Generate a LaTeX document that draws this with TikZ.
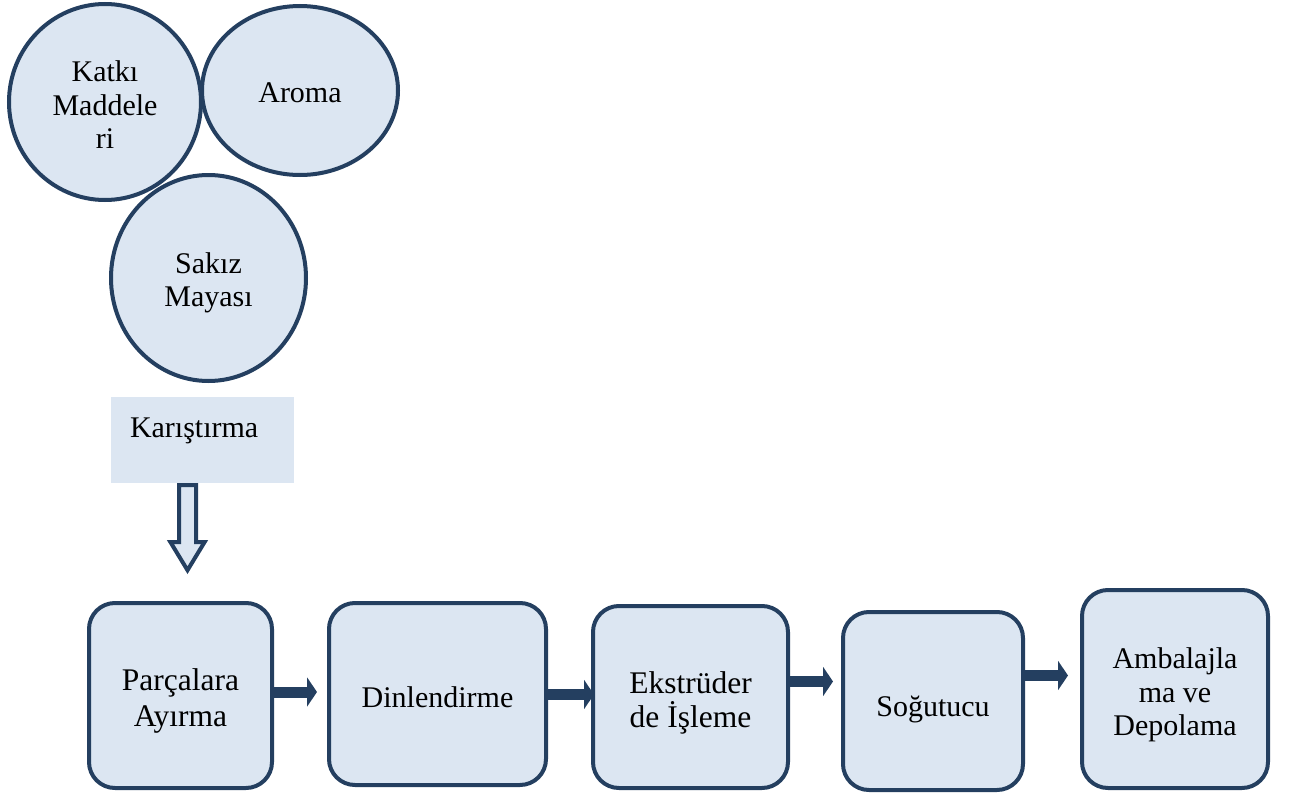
\documentclass[tikz,border=0pt]{standalone}
\usepackage{fontspec}
\setmainfont{Liberation Serif}
\usetikzlibrary{shapes.geometric,arrows.meta,calc}
\definecolor{fillc}{HTML}{DCE6F2}
\definecolor{linec}{HTML}{243F60}
\newcommand\tstrut[1]{\rule{0pt}{#1pt}}
\begin{document}
\begin{tikzpicture}[x=1pt,y=-1pt,
  every node/.style={font=\fontsize{30}{33.5}\selectfont, align=center},
  bigtext/.style={font=\fontsize{31.5}{35.5}\selectfont},
  circ/.style={ellipse, draw=linec, fill=fillc, line width=4pt, inner sep=0pt},
  stepbox/.style={rectangle, rounded corners=26pt, draw=linec, fill=fillc, line width=4pt, inner sep=0pt},
  flow/.style={draw=linec, line width=11pt, -{Triangle[length=10pt,width=29pt]}},
  hollow/.style={draw=linec, fill=fillc, line width=4pt, line join=miter},
]
\useasboundingbox (0,0) rectangle (1291,803);
% ingredient circles
\node[circ, minimum width=192pt, minimum height=196pt] (katki) at (105,102) {\tstrut{26.5}Katkı\\Maddele\\ri};
\node[circ, minimum width=196pt, minimum height=169pt] (aroma) at (300,90.5) {\tstrut{24.5}Aroma};
\node[circ, minimum width=195pt, minimum height=206pt] (maya) at (208.5,278) {\tstrut{30.5}Sakız\\Mayası};
% mixing
\node[rectangle, fill=fillc, text width=145pt, align=left, inner xsep=19pt, inner ysep=0pt,
      minimum height=86pt, text height=20pt, text depth=26pt] (karis) at (202.5,440) {Karıştırma};
\coordinate (ka) at ($(karis.south)+(-15,0)$);
\draw[hollow] (ka) +(-8.5,2) -- +(-8.5,59) -- +(-17,59) -- +(0,87) -- +(17,59) -- +(8.5,59) -- +(8.5,2) -- cycle;
% process steps
\node[stepbox, bigtext, minimum width=183pt, minimum height=185pt] (b1) at (180.5,695.5) {\tstrut{32.5}Parçalara\\Ayırma};
\node[stepbox, minimum width=217pt, minimum height=182pt] (b2) at (437.5,694) {\tstrut{26.5}Dinlendirme};
\node[stepbox, font=\fontsize{31.5}{34}\selectfont, minimum width=195pt, minimum height=182pt] (b3) at (690.5,697) {\tstrut{33.5}Ekstrüder\\de İşleme};
\node[stepbox, minimum width=180pt, minimum height=178pt] (b4) at (933,701) {\tstrut{36.5}Soğutucu};
\node[stepbox, minimum width=186pt, minimum height=198pt] (b5) at (1175,689) {\tstrut{32.5}Ambalajla\\ma ve\\Depolama};
% connectors
\coordinate (a1) at ([yshift=3.5pt]b1.east);
\coordinate (a2) at ([yshift=-0.5pt]b2.east);
\coordinate (a3) at ([yshift=15.5pt]b3.east);
\coordinate (a4) at ([yshift=25.5pt]b4.east);
\draw[flow, shorten >=10pt] (a1) -- (a1 -| b2.west);
\draw[flow, shorten >=-3pt] (a2) -- (a2 -| b3.west);
\draw[flow, shorten >=8pt] (a3) -- (a3 -| b4.west);
\draw[flow, shorten >=12pt] (a4) -- (a4 -| b5.west);
\end{tikzpicture}
\end{document}
